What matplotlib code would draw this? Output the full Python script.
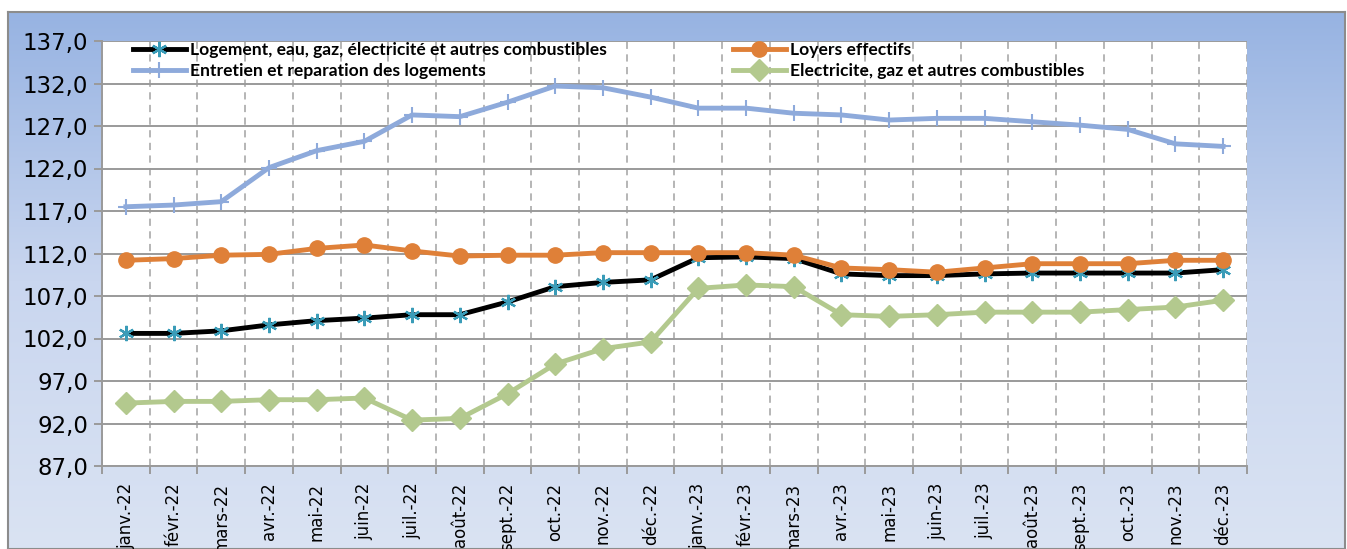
import numpy as np
import matplotlib
matplotlib.use("Agg")
import matplotlib.pyplot as plt
from matplotlib.colors import LinearSegmentedColormap

months = ["janv.-22", "févr.-22", "mars-22", "avr.-22", "mai-22", "juin-22",
          "juil.-22", "août-22", "sept.-22", "oct.-22", "nov.-22", "déc.-22",
          "janv.-23", "févr.-23", "mars-23", "avr.-23", "mai-23", "juin-23",
          "juil.-23", "août-23", "sept.-23", "oct.-23", "nov.-23", "déc.-23"]

logement = [102.6, 102.6, 102.9, 103.6, 104.1, 104.4, 104.8, 104.8, 106.3, 108.1, 108.6, 108.9,
            111.5, 111.6, 111.4, 109.6, 109.4, 109.4, 109.6, 109.7, 109.7, 109.7, 109.7, 110.1]
loyers = [111.2, 111.4, 111.8, 111.9, 112.6, 113.0, 112.3, 111.7, 111.8, 111.8, 112.1, 112.1,
          112.1, 112.1, 111.8, 110.3, 110.1, 109.8, 110.3, 110.8, 110.8, 110.8, 111.2, 111.2]
entretien = [117.5, 117.7, 118.1, 122.1, 124.1, 125.2, 128.3, 128.1, 129.8, 131.7, 131.5, 130.4,
             129.1, 129.1, 128.5, 128.3, 127.7, 127.9, 127.9, 127.5, 127.1, 126.6, 124.9, 124.6]
electricite = [94.4, 94.6, 94.6, 94.8, 94.8, 95.0, 92.4, 92.6, 95.5, 99.0, 100.8, 101.6,
               107.9, 108.3, 108.1, 104.8, 104.6, 104.8, 105.1, 105.1, 105.1, 105.4, 105.7, 106.5]

labels = ["Logement, eau, gaz, électricité et autres combustibles",
          "Loyers effectifs",
          "Entretien et reparation des logements",
          "Electricite, gaz et autres combustibles"]

y_ticks = [87, 92, 97, 102, 107, 112, 117, 122, 127, 132, 137]

W, H = 1347, 549
fig = plt.figure(figsize=(W / 100, H / 100), dpi=100)
fig.patch.set_facecolor("white")

# gradient background frame
bx0, bx1, by0, by1 = 8 / W, 1345 / W, 0.0, 1 - 12 / H
bg = fig.add_axes([bx0, by0, bx1 - bx0, by1 - by0], zorder=-5)
cmap = LinearSegmentedColormap.from_list("g", ["#dae3f3", "#c9d6ef", "#97b3e2"])
grad = np.linspace(0, 1, 256).reshape(-1, 1)
bg.imshow(grad, aspect="auto", cmap=cmap, origin="lower", extent=[0, 1, 0, 1])
bg.set_xticks([]); bg.set_yticks([])
for s in bg.spines.values():
    s.set_color("#8c8c8c"); s.set_linewidth(1.5)

left, right, top, bottom = 102 / W, 1247 / W, 1 - 41 / H, 1 - 466 / H
ax = fig.add_axes([left, bottom, right - left, top - bottom])
ax.set_facecolor("white")

x = np.arange(len(months))
ax.plot(x, logement, color="black", lw=3.5, marker=(6, 2, 0), ms=11, mec="#3a9cb8",
        mfc="#3a9cb8", mew=1.6, zorder=3, label=labels[0])
ax.plot(x, loyers, color="#df8038", lw=3.5, marker="o", ms=11, mec="#df8038",
        mfc="#df8038", zorder=4, label=labels[1])
ax.plot(x, entretien, color="#8eaadb", lw=3.5, marker="+", ms=12, mec="#8eaadb",
        mew=1.5, zorder=5, label=labels[2])
ax.plot(x, electricite, color="#b3c98e", lw=3.5, marker="D", ms=11, mec="#b3c98e",
        mfc="#b3c98e", zorder=6, label=labels[3])

ax.set_xlim(-0.5, len(months) - 0.5)
ax.set_ylim(87, 137)
ax.set_yticks(y_ticks)
ax.set_yticklabels([f"{v:.1f}".replace(".", ",") for v in y_ticks],
                   fontsize=16.5, family="DejaVu Sans")
ax.yaxis.grid(True, color="#9a9a9a", lw=1.4)
ax.set_xticks(x)
ax.set_xticklabels(months, rotation=90, fontsize=12, family="DejaVu Sans", va="top")
ax.set_xticks(np.arange(-0.5, len(months), 1), minor=True)
ax.tick_params(axis="x", which="major", length=0, pad=12)
ax.tick_params(axis="x", which="minor", length=6, color="#9a9a9a", width=1.4, direction="out")
ax.tick_params(axis="y", length=6, color="#9a9a9a", width=1.4, direction="out", pad=4)
ax.xaxis.grid(True, which="minor", color="#b0b0b0", lw=1.3, ls=(0, (4, 3)))
ax.set_axisbelow(True)
for name, s in ax.spines.items():
    s.set_color("#9a9a9a"); s.set_linewidth(1.4)
ax.spines["right"].set_visible(False)
ax.spines["top"].set_visible(False)

h = ax.get_lines()
legprops = dict(frameon=False, handlelength=3.0, handletextpad=0.25, labelspacing=0.3,
                prop={"family": "Lato", "weight": "bold", "size": 12.6},
                borderpad=0, borderaxespad=0)
leg1 = ax.legend([h[0], h[2]], [labels[0], labels[2]], loc="upper left",
                 bbox_to_anchor=((133 / W - left) / (right - left), 1.0 - 1 / 425), **legprops)
ax.add_artist(leg1)
leg2 = ax.legend([h[1], h[3]], [labels[1], labels[3]], loc="upper left",
                 bbox_to_anchor=((733 / W - left) / (right - left), 1.0 - 1 / 425), **legprops)
for lg in (leg1, leg2):
    lg.set_zorder(10)

fig.savefig("out.png", dpi=100)
